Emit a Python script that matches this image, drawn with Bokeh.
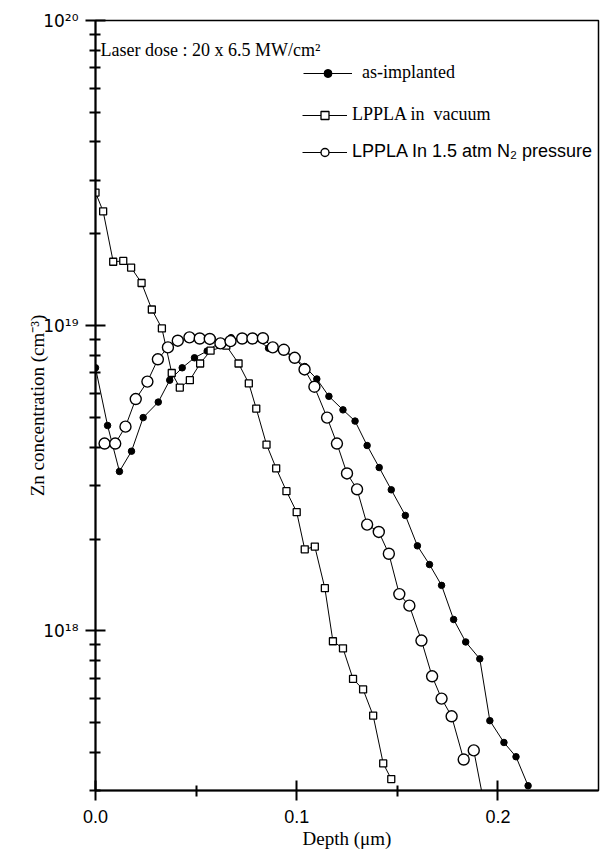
from bokeh.plotting import figure
from bokeh.models import (FixedTicker, CustomJSTickFormatter, Legend, LegendItem,
                          Range1d, Label)
from bokeh.embed import file_html
from bokeh.resources import INLINE

# ---- data ----
x_impl = [0.0, 0.006, 0.0119, 0.0179, 0.0237, 0.0312, 0.0369, 0.0431, 0.0492, 0.0555,
          0.0615, 0.0674, 0.0737, 0.0798, 0.086, 0.093, 0.0986, 0.104, 0.110, 0.116,
          0.123, 0.129, 0.135, 0.141, 0.147, 0.154, 0.160, 0.166, 0.172, 0.178,
          0.184, 0.191, 0.196, 0.203, 0.209, 0.215]
y_impl = [7.28e18, 4.71e18, 3.33e18, 3.88e18, 5.0e18, 5.62e18, 6.63e18, 7.28e18, 7.85e18, 8.26e18,
          8.79e18, 9.14e18, 8.98e18, 9.1e18, 8.44e18, 8.3e18, 7.87e18, 7.35e18, 6.69e18, 5.87e18,
          5.3e18, 4.87e18, 4.05e18, 3.43e18, 2.9e18, 2.39e18, 1.9e18, 1.65e18, 1.41e18, 1.09e18,
          9.2e17, 8.1e17, 5.08e17, 4.31e17, 3.87e17, 3.11e17]

x_vac = [0.0, 0.0038, 0.0088, 0.0138, 0.0177, 0.0229, 0.028, 0.033, 0.0379, 0.0419,
         0.0469, 0.052, 0.0572, 0.065, 0.0711, 0.0762, 0.0799, 0.085, 0.0898, 0.0949,
         0.100, 0.104, 0.109, 0.114, 0.118, 0.123, 0.128, 0.133, 0.138, 0.143, 0.147]
y_vac = [2.73e19, 2.37e19, 1.62e19, 1.63e19, 1.55e19, 1.38e19, 1.13e19, 9.8e18, 7.0e18, 6.27e18,
         6.63e18, 7.52e18, 8.28e18, 8.6e18, 7.52e18, 6.47e18, 5.35e18, 4.08e18, 3.41e18, 2.87e18,
         2.45e18, 1.85e18, 1.89e18, 1.38e18, 9.25e17, 8.77e17, 6.96e17, 6.43e17, 5.28e17, 3.68e17, 3.27e17]

x_n2 = [0.0045, 0.0098, 0.0149, 0.020, 0.0258, 0.031, 0.036, 0.0409, 0.0467, 0.0518,
        0.0568, 0.0621, 0.0671, 0.0729, 0.078, 0.0832, 0.0881, 0.0936, 0.099, 0.1039,
        0.1088, 0.1151, 0.120, 0.125, 0.130, 0.135, 0.1408, 0.1458, 0.151, 0.156,
        0.162, 0.1673, 0.172, 0.177, 0.183, 0.188, 0.193]
y_n2 = [4.11e18, 4.11e18, 4.67e18, 5.75e18, 6.56e18, 7.76e18, 8.49e18, 8.93e18, 9.16e18, 9.08e18,
        9.05e18, 8.75e18, 8.9e18, 9.08e18, 9.08e18, 9.1e18, 8.49e18, 8.34e18, 7.85e18, 7.19e18,
        6.31e18, 5.0e18, 4.11e18, 3.28e18, 2.91e18, 2.23e18, 2.11e18, 1.79e18, 1.32e18, 1.21e18,
        9.3e17, 7.1e17, 6.0e17, 5.25e17, 3.79e17, 4.06e17, 2.74e17]

labels = ["as-implanted", "LPPLA in  vacuum", "LPPLA In 1.5 atm N\u2082 pressure"]
x_ticks = [0.0, 0.1, 0.2]
x_minor = [0.05, 0.15]
y_ticks = [1e18, 1e19, 1e20]
y_minor = [m * 10 ** e for e in (17, 18, 19) for m in range(2, 10) if m * 10 ** e >= 3e17]

SERIF = "Liberation Serif"
SANS = "Liberation Sans"

p = figure(width=602, height=854, output_backend="svg", toolbar_location=None,
           y_axis_type="log", x_range=Range1d(0, 0.25), y_range=Range1d(3e17, 1e20),
           min_border_left=95, min_border_right=4, min_border_top=20, min_border_bottom=64)
p.grid.visible = False
p.outline_line_color = "black"
p.outline_line_width = 1.5
p.background_fill_color = "white"
p.border_fill_color = "white"

# series
l1 = p.line(x_impl, y_impl, line_color="black", line_width=1)
s1 = p.scatter(x_impl, y_impl, marker="circle", size=6.5, fill_color="black", line_color="black")
l2 = p.line(x_vac, y_vac, line_color="black", line_width=1)
s2 = p.scatter(x_vac, y_vac, marker="square", size=7, fill_color="white", line_color="black",
               line_width=1.3)
l3 = p.line(x_n2, y_n2, line_color="black", line_width=1)
s3 = p.scatter(x_n2, y_n2, marker="circle", size=11, fill_color="white", line_color="black",
               line_width=1.4)

# axes
xa = p.xaxis[0]
xa.ticker = FixedTicker(ticks=x_ticks, minor_ticks=x_minor)
xa.formatter = CustomJSTickFormatter(code="return tick.toFixed(1);")
xa.axis_label = "Depth (\u03bcm)"
ya = p.yaxis[0]
ya.ticker = FixedTicker(ticks=y_ticks, minor_ticks=y_minor)
ya.formatter = CustomJSTickFormatter(code="""
const sup = {'0':'\u2070','1':'\u00b9','2':'\u00b2','3':'\u00b3','4':'\u2074','5':'\u2075','6':'\u2076','7':'\u2077','8':'\u2078','9':'\u2079','-':'\u207b'};
const e = Math.round(Math.log10(tick));
return '10' + String(e).split('').map(c => sup[c]).join('');
""")
ya.axis_label = "Zn concentration (cm\u207b\u00b3)"

for ax in (xa, ya):
    ax.axis_line_width = 2
    ax.major_tick_line_width = 2
    ax.minor_tick_line_width = 2
    ax.major_tick_in = 10
    ax.major_tick_out = 10
    ax.minor_tick_in = 5
    ax.minor_tick_out = 6
    ax.major_label_text_color = "black"
    ax.axis_label_text_font = SERIF
    ax.axis_label_text_font_size = "19px"
    ax.axis_label_text_font_style = "normal"
    ax.axis_label_text_color = "black"
xa.major_label_text_font = SANS
xa.major_label_text_font_size = "18px"
ya.major_label_text_font = "DejaVu Sans"
ya.major_label_text_font_size = "17px"
xa.major_label_standoff = 9
xa.axis_label_standoff = 2
ya.major_label_standoff = 7
ya.axis_label_standoff = -8

# legends (three, each with its own font)
def add_legend(label, rends, x, y, gw, standoff, font):
    lg = Legend(items=[LegendItem(label=label, renderers=rends)], location=(x, y),
                orientation="vertical", glyph_width=gw, glyph_height=20, padding=0, margin=0,
                spacing=0, label_standoff=standoff, border_line_color=None,
                background_fill_alpha=0, label_text_font=font, label_text_font_size="18px",
                label_text_color="black", label_height=20)
    p.add_layout(lg, "center")

add_legend(labels[0], [l1, s1], 208, 707, 49, 10, SERIF)
add_legend(labels[1], [l2, s2], 207, 665, 45, 5, SERIF)
add_legend(labels[2], [l3, s3], 207, 628, 45, 5, SANS)

p.add_layout(Label(x=0.0025, y=8.0e19, text="Laser dose : 20 x 6.5 MW/cm\u00b2",
                   text_font=SERIF, text_font_size="18px", text_color="black",
                   text_baseline="alphabetic"))

open("out.html", "w").write(file_html(p, INLINE))
